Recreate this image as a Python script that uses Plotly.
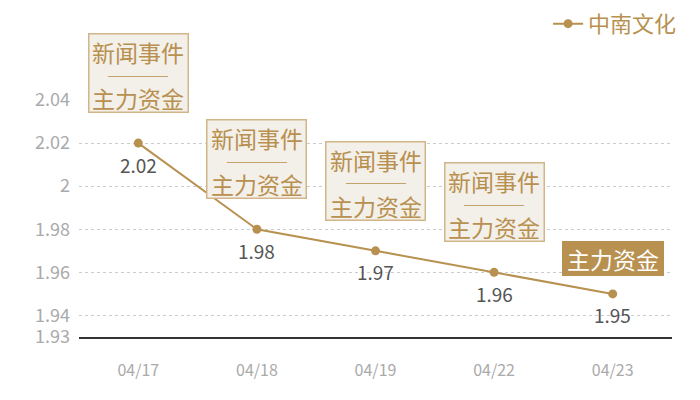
import plotly.graph_objects as go

dates = ["04/17", "04/18", "04/19", "04/22", "04/23"]
prices = [2.02, 1.98, 1.97, 1.96, 1.95]
labels = ["2.02", "1.98", "1.97", "1.96", "1.95"]
# event box texts per day ("" = no news line, box is filled)
event_news = ["新闻事件", "新闻事件", "新闻事件", "新闻事件", ""]
event_fund = ["主力资金", "主力资金", "主力资金", "主力资金", "主力资金"]
y_ticks = [1.93, 1.94, 1.96, 1.98, 2.0, 2.02, 2.04]
y_ticktext = ["1.93", "1.94", "1.96", "1.98", "2", "2.02", "2.04"]

gold = "#b8904f"
font_family = "Noto Sans CJK SC"

fig = go.Figure()
fig.add_trace(go.Scatter(x=dates, y=prices, mode="lines+markers", name="中南文化",
                         line=dict(color=gold, width=2),
                         marker=dict(color=gold, size=9)))

# value labels under each point
for d, p, t in zip(dates, prices, labels):
    fig.add_annotation(x=d, y=p, text=t, showarrow=False, yanchor="middle", yshift=-21,
                       font=dict(size=19, color="#555555", family=font_family))

# event boxes above each point
for d, p, news, fund in zip(dates, prices, event_news, event_fund):
    if news:
        # box drawn first, then the three text rows on top (tighter than plotly's line spacing)
        fig.add_annotation(x=d, y=p, text=" ", showarrow=False, yanchor="bottom", yshift=30,
                           width=98, height=77, bgcolor="#f3efe9",
                           bordercolor="#d2b68a", borderwidth=1.5, borderpad=0)
        fig.add_annotation(x=d, y=p, text=news, showarrow=False, yanchor="middle", yshift=91,
                           font=dict(size=23, color=gold, family=font_family))
        fig.add_annotation(x=d, y=p, text="───", showarrow=False, yanchor="middle", yshift=68,
                           font=dict(size=20, color=gold, family=font_family))
        fig.add_annotation(x=d, y=p, text=fund, showarrow=False, yanchor="middle", yshift=45,
                           font=dict(size=23, color=gold, family=font_family))
    else:
        fig.add_annotation(x=d, y=p, text=fund, showarrow=False, yanchor="bottom", yshift=18,
                           width=100, height=33,
                           font=dict(size=23, color="white", family=font_family),
                           bgcolor=gold, bordercolor=gold, borderwidth=1, borderpad=0)

# page body has an 8px margin, so the figure is a bit smaller than the window
fig.update_layout(
    width=692, height=392,
    margin=dict(l=71, r=28, t=92, b=63, autoexpand=False),
    plot_bgcolor="white", paper_bgcolor="white",
    font=dict(family=font_family),
    showlegend=True,
    legend=dict(x=1.017, xanchor="right", y=1.41, yanchor="top", orientation="h",
                font=dict(size=22, color=gold), itemwidth=30),
    xaxis=dict(type="category", range=[-0.5, 4.5], showgrid=False, showline=True,
               linecolor="#333", linewidth=1.5,
               ticks="", tickfont=dict(size=16, color="#aaaaaa"), ticklabelstandoff=18),
    yaxis=dict(range=[1.93, 2.04], tickvals=y_ticks, ticktext=y_ticktext,
               showgrid=True, gridcolor="#cccccc", griddash="dot", gridwidth=1,
               zeroline=False, showline=False, ticks="",
               tickfont=dict(size=18, color="#aaaaaa"), ticklabelstandoff=8),
)

fig.write_html("out.html")
